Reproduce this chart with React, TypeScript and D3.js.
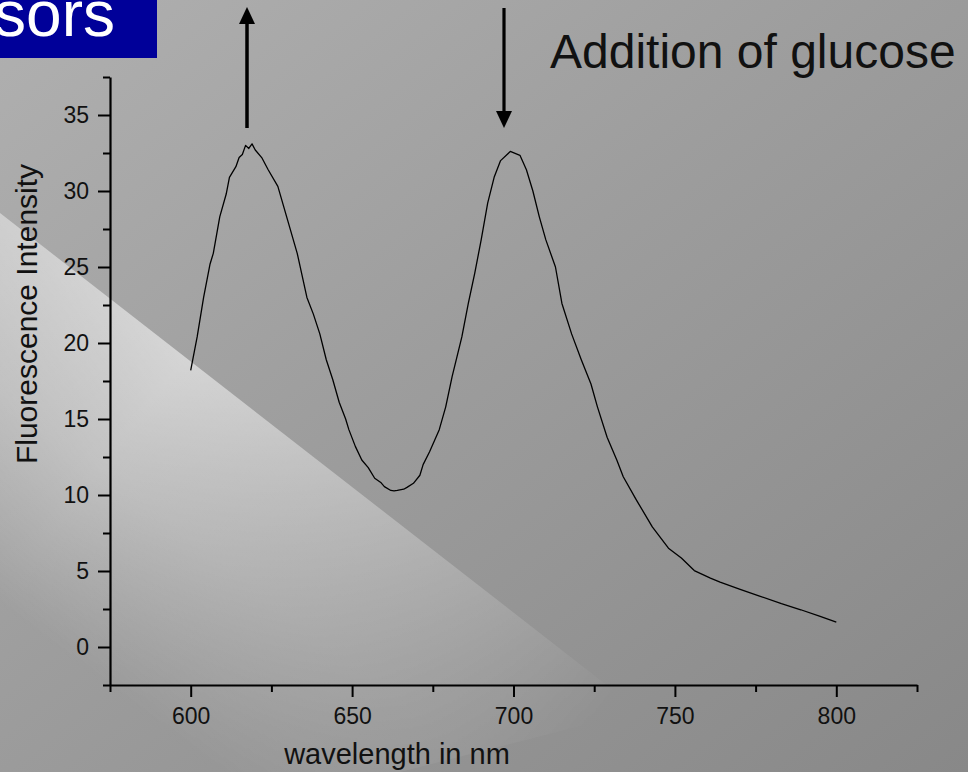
import React, { useEffect, useRef } from 'react'
import * as d3 from 'd3'

// spectrum (nm, a.u.)
const wavelengths = [
  600, 602, 604, 606, 607, 609, 611, 612, 614, 615, 616, 617, 618, 619, 620, 622, 624, 627, 630, 633,
  636, 638, 640, 642, 644, 646, 648, 649, 651, 653, 655, 657, 659, 660, 662, 663, 664, 666, 667, 669,
  671, 672, 674, 677, 679, 681, 684, 686, 688, 690, 692, 694, 696, 699, 702, 704, 706, 708, 710, 713,
  715, 718, 721, 724, 726, 729, 732, 734, 738, 743, 748, 752, 756, 761, 764, 770, 776, 783, 789, 795, 800
]
const intensities = [
  18.2, 20.4, 23.0, 25.2, 25.9, 28.3, 29.8, 30.9, 31.6, 32.2, 32.4, 33.0, 32.8, 33.1, 32.7, 32.2, 31.4, 30.3, 28.1, 25.9,
  23.0, 21.9, 20.6, 18.9, 17.6, 16.1, 15.0, 14.3, 13.2, 12.3, 11.8, 11.1, 10.8, 10.55, 10.3, 10.27, 10.3, 10.38, 10.5, 10.77,
  11.3, 12.0, 12.85, 14.3, 15.8, 17.8, 20.4, 22.6, 24.6, 26.8, 29.2, 30.9, 32.0, 32.6, 32.35, 31.4, 30.0, 28.3, 26.8, 25.0,
  22.6, 20.6, 18.9, 17.3, 15.8, 13.8, 12.3, 11.2, 9.7, 7.9, 6.5, 5.85, 5.03, 4.53, 4.27, 3.81, 3.37, 2.85, 2.45, 2.01, 1.64
]

const xTicks = [600, 650, 700, 750, 800]
const xMinorTicks = [575, 625, 675, 725, 775, 825]
const yTicks = [0, 5, 10, 15, 20, 25, 30, 35]
const yMinorTicks = [-2.5, 2.5, 7.5, 12.5, 17.5, 22.5, 27.5, 32.5, 37.5]

const xLabel = 'wavelength in nm'
const yLabel = 'Fluorescence Intensity'
const noteText = 'Addition of glucose'
const headerTail = 'sors'

const FONT = "'Liberation Sans', Arial, sans-serif"

export default function App() {
  const ref = useRef<SVGSVGElement>(null)

  useEffect(() => {
    const width = 968
    const height = 772
    const svg = d3.select(ref.current)
    svg.selectAll('*').remove()

    // background
    const defs = svg.append('defs')
    const bg = defs.append('linearGradient')
      .attr('id', 'bg').attr('x1', 0).attr('y1', 0).attr('x2', 1).attr('y2', 1)
    bg.append('stop').attr('offset', '0%').attr('stop-color', '#b0b0b0')
    bg.append('stop').attr('offset', '45%').attr('stop-color', '#9d9d9d')
    bg.append('stop').attr('offset', '100%').attr('stop-color', '#888888')

    // light streak: sharp upper edge, fading downwards and to the right
    const across = defs.append('linearGradient')
      .attr('id', 'across').attr('gradientUnits', 'userSpaceOnUse')
      .attr('x1', 0).attr('y1', 213).attr('x2', -190).attr('y2', 457)
    across.append('stop').attr('offset', '0%').attr('stop-color', '#fff').attr('stop-opacity', 0.55)
    across.append('stop').attr('offset', '45%').attr('stop-color', '#fff').attr('stop-opacity', 0.35)
    across.append('stop').attr('offset', '100%').attr('stop-color', '#fff').attr('stop-opacity', 0)

    const along = defs.append('linearGradient')
      .attr('id', 'along').attr('gradientUnits', 'userSpaceOnUse')
      .attr('x1', 0).attr('y1', 213).attr('x2', 620).attr('y2', 695)
    along.append('stop').attr('offset', '0%').attr('stop-color', '#fff').attr('stop-opacity', 0.8)
    along.append('stop').attr('offset', '30%').attr('stop-color', '#fff').attr('stop-opacity', 1)
    along.append('stop').attr('offset', '100%').attr('stop-color', '#fff').attr('stop-opacity', 0)

    defs.append('mask').attr('id', 'alongMask')
      .append('rect').attr('width', width).attr('height', height).attr('fill', 'url(#along)')

    svg.append('rect').attr('width', width).attr('height', height).attr('fill', 'url(#bg)')
    svg.append('g').attr('mask', 'url(#alongMask)')
      .append('polygon')
      .attr('points', '0,213 640,711 400,772 0,772')
      .attr('fill', 'url(#across)')

    // header tab
    svg.append('rect').attr('x', 0).attr('y', 0).attr('width', 157).attr('height', 58).attr('fill', '#000099')
    svg.append('text')
      .attr('x', 115).attr('y', 36)
      .attr('text-anchor', 'end')
      .attr('font-family', FONT).attr('font-size', 64)
      .attr('fill', '#fff')
      .text(headerTail)

    // scales
    const x = d3.scaleLinear().domain([575, 825]).range([110, 917])
    const y = d3.scaleLinear().domain([-2.5, 37.5]).range([685, 77])

    // axes
    const xAxisG = svg.append('g').attr('transform', `translate(0, ${y(-2.5)})`)
    xAxisG.call(d3.axisBottom(x).tickValues(xMinorTicks).tickSize(7).tickSizeOuter(0).tickFormat(() => ''))
    xAxisG.call(g => g.select('.domain').remove())
    const xMain = svg.append('g').attr('transform', `translate(0, ${y(-2.5)})`)
    xMain.call(d3.axisBottom(x).tickValues(xTicks).tickSize(12).tickSizeOuter(0).tickPadding(11))

    const yAxisG = svg.append('g').attr('transform', `translate(${x(575)}, 0)`)
    yAxisG.call(d3.axisLeft(y).tickValues(yMinorTicks).tickSize(7).tickSizeOuter(0).tickFormat(() => ''))
    yAxisG.call(g => g.select('.domain').remove())
    const yMain = svg.append('g').attr('transform', `translate(${x(575)}, 0)`)
    yMain.call(d3.axisLeft(y).tickValues(yTicks).tickSize(12).tickSizeOuter(0).tickPadding(9))

    svg.selectAll('.domain').attr('stroke', '#000').attr('stroke-width', 2.2)
    svg.selectAll('.tick line').attr('stroke', '#000').attr('stroke-width', 2)
    svg.selectAll('.tick text')
      .attr('font-family', FONT).attr('font-size', 23).attr('fill', '#111')

    // axis titles
    svg.append('text')
      .attr('x', 397).attr('y', 764)
      .attr('text-anchor', 'middle')
      .attr('font-family', FONT).attr('font-size', 29).attr('fill', '#111')
      .text(xLabel)
    svg.append('text')
      .attr('transform', 'translate(37, 314) rotate(-90)')
      .attr('text-anchor', 'middle')
      .attr('font-family', FONT).attr('font-size', 30).attr('fill', '#111')
      .text(yLabel)

    // spectrum
    const points: [number, number][] = wavelengths.map((w, i) => [w, intensities[i]])
    const line = d3.line<[number, number]>()
      .x(d => x(d[0]))
      .y(d => y(d[1]))
    svg.append('path')
      .datum(points)
      .attr('fill', 'none')
      .attr('stroke', '#000')
      .attr('stroke-width', 1.3)
      .attr('stroke-linejoin', 'round')
      .attr('d', line)

    // arrows
    svg.append('line').attr('x1', 247).attr('y1', 128).attr('x2', 247).attr('y2', 22)
      .attr('stroke', '#000').attr('stroke-width', 3.5)
    svg.append('polygon').attr('points', '247,7 239,24 255,24').attr('fill', '#000')
    svg.append('line').attr('x1', 504).attr('y1', 8).attr('x2', 504).attr('y2', 113)
      .attr('stroke', '#000').attr('stroke-width', 3.2)
    svg.append('polygon').attr('points', '504,128 496,111 512,111').attr('fill', '#000')

    svg.append('text')
      .attr('x', 550).attr('y', 68)
      .attr('font-family', FONT).attr('font-size', 48).attr('fill', '#111')
      .text(noteText)
  }, [])

  return (
    <svg
      ref={ref}
      width={968}
      height={772}
      style={{ position: 'absolute', left: 0, top: 0, display: 'block' }}
    />
  )
}
